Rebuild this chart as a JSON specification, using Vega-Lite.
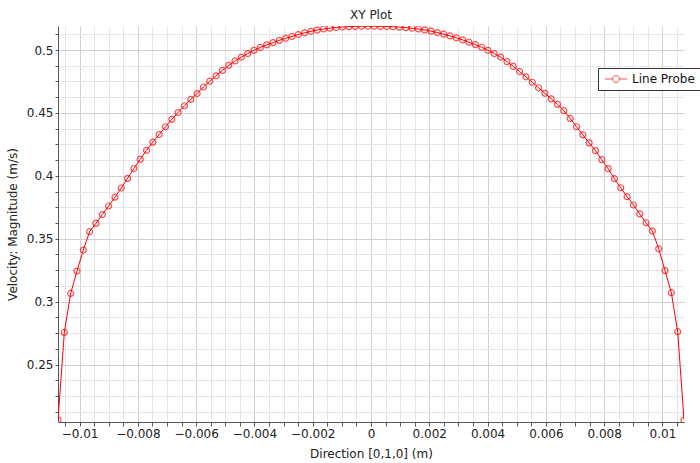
{
  "$schema": "https://vega.github.io/schema/vega-lite/v6.json",
  "width": 626,
  "height": 396,
  "autosize": "none",
  "padding": {"left": 58, "top": 26, "right": 16, "bottom": 41},
  "background": "#ffffff",
  "title": {"text": "XY Plot", "fontSize": 12, "font": "DejaVu Sans", "fontWeight": "normal", "color": "#222222", "anchor": "middle", "offset": 4},
  "config": {
    "view": {"stroke": null},
    "axis": {"labelFont": "DejaVu Sans", "titleFont": "DejaVu Sans", "labelFontSize": 12, "titleFontSize": 12, "titleFontWeight": "normal", "labelColor": "#222222", "titleColor": "#222222", "domainColor": "#555555", "tickColor": "#555555"}
  },
  "data": {"values": [
    {"x": -0.010740, "v": 0.2060}, {"x": -0.010523, "v": 0.2755}, {"x": -0.010306, "v": 0.3065}, {"x": -0.010089, "v": 0.3243},
    {"x": -0.009872, "v": 0.3410}, {"x": -0.009655, "v": 0.3556}, {"x": -0.009438, "v": 0.3622}, {"x": -0.009221, "v": 0.3692},
    {"x": -0.009004, "v": 0.3760}, {"x": -0.008787, "v": 0.3830}, {"x": -0.008570, "v": 0.3903}, {"x": -0.008353, "v": 0.3980},
    {"x": -0.008136, "v": 0.4058}, {"x": -0.007919, "v": 0.4131}, {"x": -0.007702, "v": 0.4203}, {"x": -0.007485, "v": 0.4268},
    {"x": -0.007268, "v": 0.4328}, {"x": -0.007052, "v": 0.4390}, {"x": -0.006835, "v": 0.4449}, {"x": -0.006618, "v": 0.4503},
    {"x": -0.006401, "v": 0.4557}, {"x": -0.006184, "v": 0.4607}, {"x": -0.005967, "v": 0.4654}, {"x": -0.005750, "v": 0.4706},
    {"x": -0.005533, "v": 0.4752}, {"x": -0.005316, "v": 0.4795}, {"x": -0.005099, "v": 0.4838}, {"x": -0.004882, "v": 0.4878},
    {"x": -0.004665, "v": 0.4913}, {"x": -0.004448, "v": 0.4944}, {"x": -0.004231, "v": 0.4972}, {"x": -0.004014, "v": 0.4998},
    {"x": -0.003797, "v": 0.5021}, {"x": -0.003580, "v": 0.5041}, {"x": -0.003363, "v": 0.5059}, {"x": -0.003146, "v": 0.5077},
    {"x": -0.002929, "v": 0.5093}, {"x": -0.002712, "v": 0.5108}, {"x": -0.002495, "v": 0.5123}, {"x": -0.002278, "v": 0.5137},
    {"x": -0.002061, "v": 0.5149}, {"x": -0.001844, "v": 0.5159}, {"x": -0.001627, "v": 0.5167}, {"x": -0.001410, "v": 0.5174},
    {"x": -0.001193, "v": 0.5179}, {"x": -0.000976, "v": 0.5183}, {"x": -0.000759, "v": 0.5186}, {"x": -0.000542, "v": 0.5188},
    {"x": -0.000325, "v": 0.5189}, {"x": -0.000108, "v": 0.5189}, {"x": 0.000108, "v": 0.5189}, {"x": 0.000325, "v": 0.5188},
    {"x": 0.000542, "v": 0.5187}, {"x": 0.000759, "v": 0.5185}, {"x": 0.000976, "v": 0.5182}, {"x": 0.001193, "v": 0.5178},
    {"x": 0.001410, "v": 0.5173}, {"x": 0.001627, "v": 0.5167}, {"x": 0.001844, "v": 0.5160}, {"x": 0.002061, "v": 0.5150},
    {"x": 0.002278, "v": 0.5139}, {"x": 0.002495, "v": 0.5126}, {"x": 0.002712, "v": 0.5112}, {"x": 0.002929, "v": 0.5097},
    {"x": 0.003146, "v": 0.5080}, {"x": 0.003363, "v": 0.5062}, {"x": 0.003580, "v": 0.5043}, {"x": 0.003797, "v": 0.5022},
    {"x": 0.004014, "v": 0.4998}, {"x": 0.004231, "v": 0.4972}, {"x": 0.004448, "v": 0.4944}, {"x": 0.004665, "v": 0.4908},
    {"x": 0.004882, "v": 0.4870}, {"x": 0.005099, "v": 0.4829}, {"x": 0.005316, "v": 0.4787}, {"x": 0.005533, "v": 0.4744},
    {"x": 0.005750, "v": 0.4700}, {"x": 0.005967, "v": 0.4656}, {"x": 0.006184, "v": 0.4612}, {"x": 0.006401, "v": 0.4568},
    {"x": 0.006618, "v": 0.4518}, {"x": 0.006835, "v": 0.4456}, {"x": 0.007052, "v": 0.4390}, {"x": 0.007268, "v": 0.4326},
    {"x": 0.007485, "v": 0.4262}, {"x": 0.007702, "v": 0.4200}, {"x": 0.007919, "v": 0.4128}, {"x": 0.008136, "v": 0.4057},
    {"x": 0.008353, "v": 0.3977}, {"x": 0.008570, "v": 0.3905}, {"x": 0.008787, "v": 0.3834}, {"x": 0.009004, "v": 0.3768},
    {"x": 0.009221, "v": 0.3697}, {"x": 0.009438, "v": 0.3627}, {"x": 0.009655, "v": 0.3561}, {"x": 0.009872, "v": 0.3420},
    {"x": 0.010089, "v": 0.3246}, {"x": 0.010306, "v": 0.3071}, {"x": 0.010523, "v": 0.2761}, {"x": 0.010740, "v": 0.2059}
  ]},
  "layer": [
    {
      "mark": {"type": "line", "color": "#ff0000", "strokeWidth": 1, "clip": true},
      "encoding": {
        "x": {"field": "x", "type": "quantitative", "scale": {"domain": [-0.01074, 0.01074], "nice": false, "zero": false},
          "axis": {"orient": "bottom", "title": null, "labels": false, "domain": false, "ticks": true, "tickSize": 4, "grid": true, "gridColor": "#e4e4e9", "gridWidth": 1,
            "values": [-0.0105, -0.0095, -0.009, -0.0085, -0.0075, -0.007, -0.0065, -0.0055, -0.005, -0.0045, -0.0035, -0.003, -0.0025, -0.0015, -0.001, -0.0005, 0.0005, 0.001, 0.0015, 0.0025, 0.003, 0.0035, 0.0045, 0.005, 0.0055, 0.0065, 0.007, 0.0075, 0.0085, 0.009, 0.0095, 0.0105]}},
        "y": {"field": "v", "type": "quantitative", "scale": {"domain": [0.2043, 0.5191], "nice": false, "zero": false},
          "axis": {"orient": "left", "title": null, "labels": false, "domain": false, "ticks": true, "tickSize": 3, "grid": true, "gridColor": "#e4e4e9", "gridWidth": 1,
            "values": [0.2125, 0.225, 0.2375, 0.2625, 0.275, 0.2875, 0.3125, 0.325, 0.3375, 0.3625, 0.375, 0.3875, 0.4125, 0.425, 0.4375, 0.4625, 0.475, 0.4875, 0.5125]}}
      }
    },
    {
      "mark": {"type": "point", "shape": "circle", "filled": false, "size": 36, "strokeWidth": 1.2, "clip": true},
      "encoding": {
        "x": {"field": "x", "type": "quantitative",
          "axis": {"orient": "bottom", "title": "Direction [0,1,0] (m)", "titleX": 313, "titleY": 31, "titleBaseline": "middle", "grid": true, "gridColor": "#cfcfd4", "tickSize": 4, "labelPadding": 2,
            "values": [-0.01, -0.008, -0.006, -0.004, -0.002, 0, 0.002, 0.004, 0.006, 0.008, 0.01], "format": "~g", "labelFlush": false}},
        "y": {"field": "v", "type": "quantitative",
          "axis": {"orient": "left", "title": "Velocity: Magnitude (m/s)", "titleX": -46, "titleY": 198, "titleBaseline": "middle", "titleAngle": -90, "grid": true, "gridColor": "#cfcfd4", "tickSize": 3, "labelPadding": 2,
            "values": [0.25, 0.3, 0.35, 0.4, 0.45, 0.5], "format": "~g"}},
        "color": {"datum": "Line Probe", "type": "nominal", "scale": {"range": ["#ff0000"]},
          "legend": {"orient": "none", "legendX": 540, "legendY": 42, "title": null, "symbolType": "M-2.75,0L-0.85,0M0.85,0L2.75,0M-0.85,0A0.85,0.85,0,1,1,0.85,0A0.85,0.85,0,1,1,-0.85,0", "symbolSize": 64, "symbolOffset": 7, "symbolStrokeColor": "#ff0000", "symbolFillColor": "transparent", "symbolStrokeWidth": 1, "labelOffset": 10, "labelFont": "DejaVu Sans", "labelFontSize": 12, "labelColor": "#111111", "padding": 5, "strokeColor": "#333333", "fillColor": "#ffffff"}}
      }
    }
  ],
  "resolve": {"axis": {"x": "independent", "y": "independent"}}
}
